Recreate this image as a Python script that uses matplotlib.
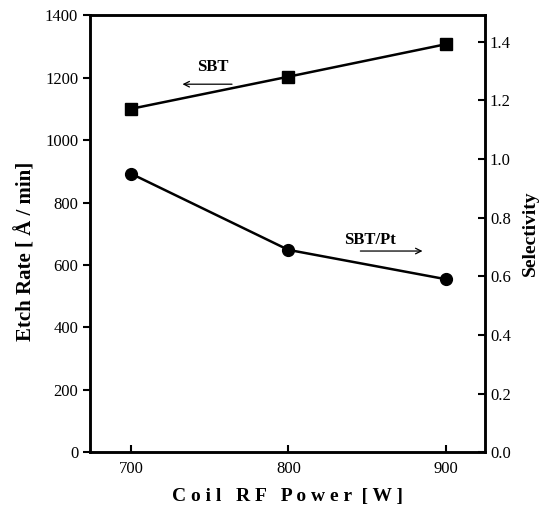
import matplotlib
matplotlib.use("Agg")
from matplotlib import pyplot as plt

power = [700, 800, 900]
etch_rate_sbt = [1100, 1203, 1307]
selectivity = [0.95, 0.69, 0.59]

plt.rcParams['font.family'] = ['Liberation Serif', 'DejaVu Serif']

fig = plt.figure(figsize=(5.42, 5.07), dpi=100)
ax = fig.add_axes([0.166, 0.108, 0.729, 0.862])
ax2 = ax.twinx()

ax.plot(power, etch_rate_sbt, c='black', lw=1.8, marker='s', markersize=8.5)
ax2.plot(power, selectivity, c='black', lw=1.8, marker='o', markersize=8.5)

ax.set_xlim(674, 925)
ax.set_ylim(0, 1400)
ax2.set_ylim(0, 1.49)
ax.set_xticks(power)
ax.set_yticks(range(0, 1401, 200))
ax2.set_yticks([0.0, 0.2, 0.4, 0.6, 0.8, 1.0, 1.2, 1.4])
ax2.set_yticklabels(['0.0', '0.2', '0.4', '0.6', '0.8', '1.0', '1.2', '1.4'])

for a in (ax, ax2):
    for s in a.spines.values():
        s.set_linewidth(1.8)
ax.tick_params(axis='y', direction='out', length=5, width=1.5, labelsize=12)
ax.tick_params(axis='x', direction='in', length=5, width=1.5, labelsize=12, pad=6)
ax2.tick_params(axis='y', direction='in', length=5, width=1.5, labelsize=12)

ax.set_xlabel("C o i l   R F   P o w e r  [ W ]", fontsize=14, fontweight='bold', labelpad=8)
ax.set_ylabel("Etch Rate [ Å / min]", fontsize=15, fontweight='bold')
ax.yaxis.set_label_coords(-0.135, 0.46)
ax2.set_ylabel("Selectivity", fontsize=14, fontweight='bold', labelpad=8)

# labels with arrows pointing to the matching axis
ax.text(752, 1208, "SBT", fontsize=12, fontweight='bold', ha='center', va='bottom')
ax.annotate("", xy=(731, 1179), xytext=(766, 1179),
            arrowprops=dict(arrowstyle='->', lw=0.9, color='black'))
ax2.text(852, 0.696, "SBT/Pt", fontsize=12, fontweight='bold', ha='center', va='bottom')
ax2.annotate("", xy=(887, 0.686), xytext=(844, 0.686),
             arrowprops=dict(arrowstyle='->', lw=0.9, color='black'))

fig.savefig("out.png", dpi=100)
